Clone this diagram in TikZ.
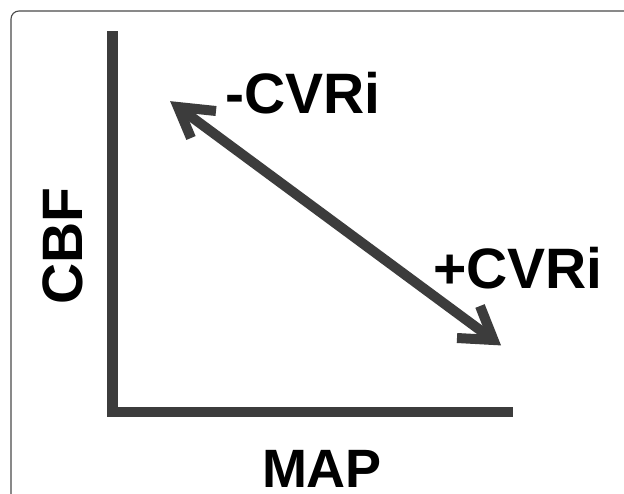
\documentclass[tikz,border=0pt]{standalone}
\usepackage{fontspec}
\setmainfont{Liberation Sans}
\definecolor{ink}{HTML}{3C3C3C}
\definecolor{framec}{HTML}{4A4A4A}
\begin{document}
\begin{tikzpicture}[x=1pt,y=-1pt,
  axisline/.style={draw=ink,line width=10.5pt,line join=miter},
  arrowline/.style={draw=ink,line width=10pt,line join=miter},
  lbl/.style={font=\fontsize{57}{60}\selectfont\bfseries,inner sep=0pt,text=black},
  frameline/.style={draw=framec,line width=1.1pt,rounded corners=8pt}]
\useasboundingbox (0,0) rectangle (624,493);
\fill[white] (0,0) rectangle (624,493);
\draw[frameline] (660,11) -- (11,11) -- (11,520);
% axes
\coordinate (ytop) at (112.5,31);
\coordinate (orig) at (112.5,412);
\coordinate (xend) at (513,412);
\draw[axisline] (ytop) -- (orig) -- (xend);
% double arrow
\coordinate (tipA) at (178,107);
\coordinate (tipB) at (493.5,340);
\coordinate (a1) at (216,111);
\coordinate (a2) at (191,138);
\coordinate (b1) at (480,306);
\coordinate (b2) at (457,338);
\draw[arrowline] (tipA) -- (tipB);
\draw[arrowline] (a1) -- (tipA) -- (a2);
\draw[arrowline] (b1) -- (tipB) -- (b2);
% labels
\node[lbl,anchor=base west] (minus) at (225,113) {-CVRi};
\node[lbl,anchor=base west] (plus) at (433,288) {+CVRi};
\node[lbl,anchor=base,rotate=90] (cbf) at (82,246) {CBF};
\node[lbl,anchor=base,font=\fontsize{54}{58}\selectfont\bfseries] (map) at (322,487) {MAP};
\end{tikzpicture}
\end{document}
